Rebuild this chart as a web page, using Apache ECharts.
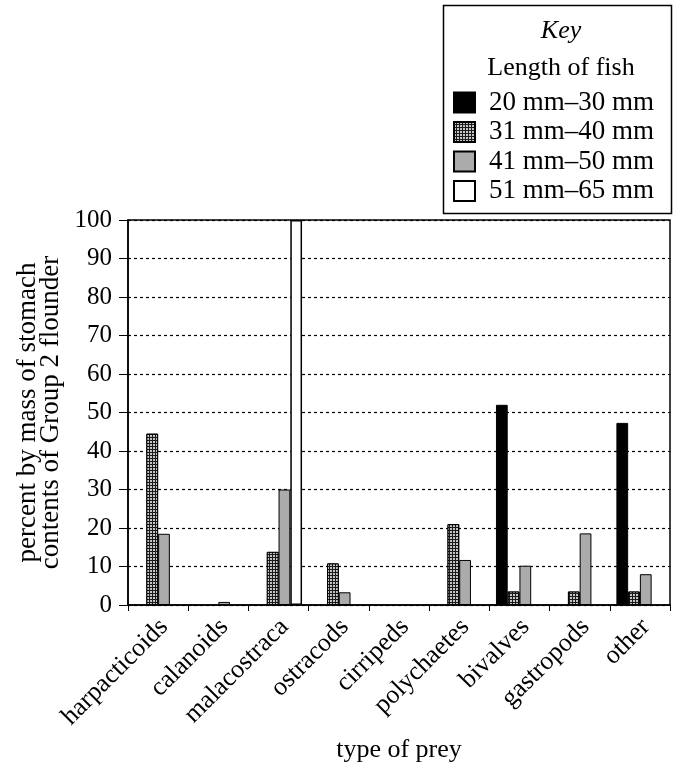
<!DOCTYPE html>
<html>
<head>
<meta charset="utf-8">
<script src="https://cdn.jsdelivr.net/npm/echarts@6/dist/echarts.min.js"></script>
<style>
  html, body { margin: 0; padding: 0; background: #fff; }
  #chartDiv { width: 681px; height: 768px; }
</style>
</head>
<body>
<div id="chartDiv"></div>
<script>
// prey categories along the x axis
const categories = ['harpacticoids', 'calanoids', 'malacostraca', 'ostracods', 'cirripeds',
  'polychaetes', 'bivalves', 'gastropods', 'other'];

// fish length groups (legend)
const groupNames = ['20 mm\u201330 mm', '31 mm\u201340 mm', '41 mm\u201350 mm', '51 mm\u201365 mm'];

// percent by mass, null = no bar
const len20to30 = [null, null, null, null, null, null, 52, null, 47.3];
const len31to40 = [44.5, null, 13.8, 10.8, null, 21, 3.5, 3.5, 3.5];
const len41to50 = [18.5, 0.8, 30, 3.3, null, 11.7, 10.2, 18.6, 8];
const len51to65 = [null, null, 100, null, null, null, null, null, null];

const yTicks = [0, 10, 20, 30, 40, 50, 60, 70, 80, 90, 100];

const font = 'Liberation Serif';
const chart = echarts.init(document.getElementById('chartDiv'));

const dotted = {
  color: '#1a1a1a',
  borderColor: '#000',
  borderWidth: 1,
  decal: { symbol: 'circle', symbolSize: 1, color: '#fff', dashArrayX: [2, 1], dashArrayY: [2, 1], rotation: 0 }
};
const grey = { color: '#ababab', borderColor: '#000', borderWidth: 1 };

const seriesData = [len20to30, len31to40, len41to50, len51to65];
const styles = [
  { color: '#000', borderColor: '#000', borderWidth: 1 },
  dotted,
  grey,
  { color: '#fff', borderColor: '#000', borderWidth: 1.5 }
];

chart.setOption({
  animation: false,
  backgroundColor: '#fff',
  textStyle: { fontFamily: font, color: '#000' },
  title: [
    { text: 'Key', left: 556, top: 13, textAlign: 'center',
      textStyle: { fontFamily: font, fontStyle: 'italic', fontWeight: 'normal', fontSize: 26, color: '#000' } },
    { text: 'Length of fish', left: 556, top: 50, textAlign: 'center',
      textStyle: { fontFamily: font, fontWeight: 'normal', fontSize: 26, color: '#000' } }
  ],
  graphic: [
    { type: 'rect', left: 441, top: 3, shape: { width: 228, height: 208 },
      style: { fill: 'none', stroke: '#000', lineWidth: 1.5 } }
  ],
  legend: {
    orient: 'vertical',
    left: 453,
    top: 89,
    padding: 0,
    itemWidth: 21,
    itemHeight: 20,
    itemGap: 2.5,
    icon: 'rect',
    data: groupNames,
    textStyle: { fontFamily: font, fontSize: 27, color: '#000', padding: [0, 0, 0, 9] }
  },
  grid: { left: 128, right: 11, top: 220, bottom: 163, outerBoundsMode: 'none',
    show: true, borderColor: '#000', borderWidth: 1.5 },
  xAxis: {
    type: 'category',
    data: categories,
    name: 'type of prey',
    nameLocation: 'middle',
    nameGap: 132,
    nameMoveOverlap: false,
    nameTextStyle: { fontFamily: font, fontSize: 26, color: '#000' },
    axisLine: { lineStyle: { color: '#000', width: 1.5 } },
    axisTick: { show: true, length: 6, lineStyle: { color: '#000' } },
    axisLabel: {
      rotate: 45, margin: 12,
      formatter: v => '{c|' + v + '}',
      rich: { c: { fontFamily: font, fontSize: 26, color: '#000', padding: [17, 0, 0, 0] } }
    }
  },
  yAxis: {
    type: 'value',
    min: 0,
    max: 100,
    interval: 10,
    name: '{n|percent by mass of stomach}\n{n|contents of Group 2 flounder}',
    nameLocation: 'middle',
    nameRotate: 90,
    nameGap: 66,
    nameMoveOverlap: false,
    nameTextStyle: { rich: { n: { fontFamily: font, fontSize: 27, color: '#000', lineHeight: 23 } } },
    axisLine: { show: true, lineStyle: { color: '#000', width: 1.5 } },
    axisTick: { show: true, length: 9, lineStyle: { color: '#000' } },
    axisLabel: { fontFamily: font, fontSize: 25, color: '#000', margin: 16,
      formatter: v => yTicks.includes(v) ? String(v) : '' },
    splitLine: { show: true, lineStyle: { color: '#000', type: [3, 3], width: 1.2 } }
  },
  series: groupNames.map((name, i) => ({
    name: name,
    type: 'bar',
    data: seriesData[i],
    barGap: '0%',
    barCategoryGap: '22%',
    itemStyle: styles[i]
  }))
});
</script>
</body>
</html>
